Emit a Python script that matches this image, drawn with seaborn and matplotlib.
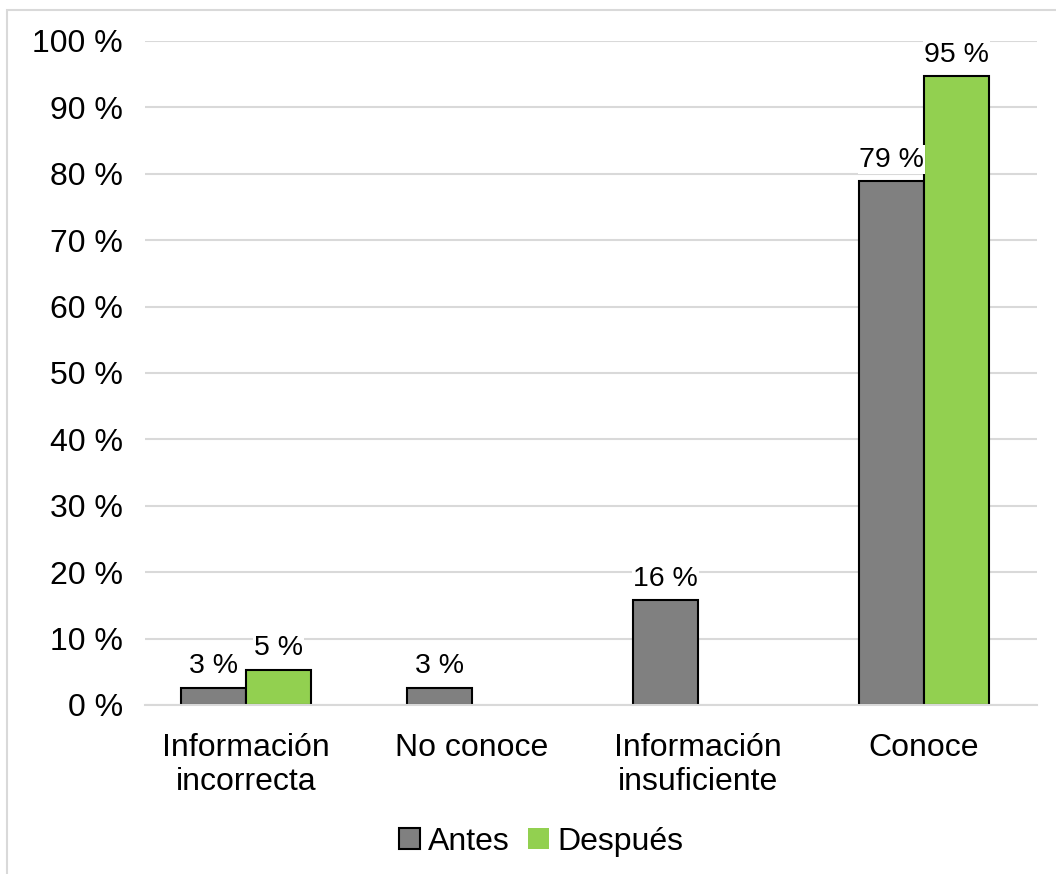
import matplotlib
matplotlib.use("Agg")
import matplotlib.pyplot as plt
import seaborn as sns
import pandas as pd
from matplotlib.patches import Rectangle

categories = ["Información\nincorrecta", "No conoce", "Información\ninsuficiente", "Conoce"]
antes = [2.6, 2.6, 15.8, 78.9]
despues = [5.3, 0.0, 0.0, 94.7]
series = ["Antes", "Después"]
colors = ["#808080", "#92D050"]
yticks = [0, 10, 20, 30, 40, 50, 60, 70, 80, 90, 100]

rows = []
for c, a, d in zip(categories, antes, despues):
    rows.append({"cat": c, "serie": "Antes", "val": a})
    rows.append({"cat": c, "serie": "Después", "val": d})
df = pd.DataFrame(rows)
df_plot = df[df["val"] > 0]

sns.set_theme(style="white")
plt.rcParams["font.family"] = ["Liberation Sans", "DejaVu Sans"]
plt.rcParams["text.color"] = "black"

fig = plt.figure(figsize=(10.56, 8.74), dpi=100)
W, H = 1056, 874
ax = fig.add_axes([145 / W, 1 - 705 / H, (1037 - 145) / W, (705 - 41) / H])

sns.barplot(data=df_plot, x="cat", y="val", hue="serie", order=categories,
            hue_order=series, palette=colors, width=0.575, gap=0,
            edgecolor="black", linewidth=1.5, ax=ax, legend=False,
            errorbar=None, saturation=1)

ax.set_xlim(-0.5 + 12 / 226, 3.5)
ax.set_ylim(0, 100)
ax.set_yticks(yticks)
ax.set_yticklabels([f"{t} %" for t in yticks])
ax.yaxis.grid(True, color="#d9d9d9", linewidth=1.5)
ax.set_axisbelow(True)
for s in ["top", "right", "left"]:
    ax.spines[s].set_visible(False)
ax.spines["bottom"].set_color("#d9d9d9")
ax.spines["bottom"].set_linewidth(1.5)
ax.tick_params(axis="y", length=0, pad=16, labelsize=23, colors="black")
ax.tick_params(axis="x", length=0, pad=20, labelsize=23, colors="black")
ax.set_xlabel("")
ax.set_ylabel("")

for cont in ax.containers:
    labels = [f"{round(b.get_height()):.0f} %" for b in cont]
    ax.bar_label(cont, labels=labels, padding=6, fontsize=20.5, color="black",
                 bbox=dict(facecolor="white", edgecolor="none", pad=1))

handles = [Rectangle((0, 0), 1, 1, facecolor=colors[0], edgecolor="black", linewidth=1.5),
           Rectangle((0, 0), 1, 1, facecolor=colors[1], edgecolor="none")]
fig.legend(handles, series, loc="center", bbox_to_anchor=(541 / W, 1 - 842 / H),
           ncol=2, frameon=False, fontsize=23, handlelength=0.65, handleheight=0.65,
           handletextpad=0.25, columnspacing=0.6, labelcolor="black")

fig.add_artist(Rectangle((7 / W, -0.1), 1.2, 1 - 10 / H + 0.1, transform=fig.transFigure,
                         fill=False, edgecolor="#d9d9d9", linewidth=1.5))

fig.savefig("out.png", dpi=100)
